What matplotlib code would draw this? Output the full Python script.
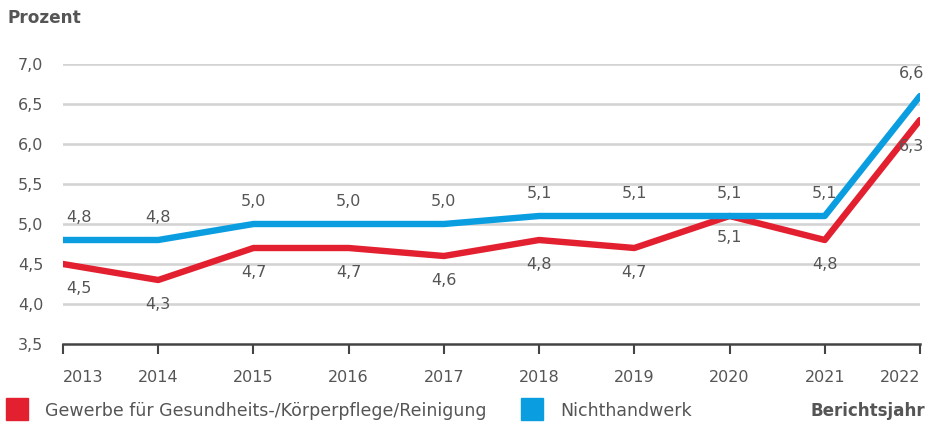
import matplotlib
matplotlib.use("Agg")
import matplotlib.pyplot as plt
from matplotlib.patches import Rectangle

years = [2013, 2014, 2015, 2016, 2017, 2018, 2019, 2020, 2021, 2022]
gewerbe = [4.5, 4.3, 4.7, 4.7, 4.6, 4.8, 4.7, 5.1, 4.8, 6.3]
nichthandwerk = [4.8, 4.8, 5.0, 5.0, 5.0, 5.1, 5.1, 5.1, 5.1, 6.6]
yticks = [3.5, 4.0, 4.5, 5.0, 5.5, 6.0, 6.5, 7.0]

RED = "#e3202f"
BLUE = "#0a9ee0"
TXT = "#555555"
GRID = "#d4d4d4"
FS = 11.5

plt.rcParams['font.family'] = ['DejaVu Sans']

fig = plt.figure(figsize=(9.29, 4.22), dpi=100)
ax = fig.add_axes([63/929, 1-344/422, (920-63)/929, (344-64)/422])
ax.set_xlim(2013, 2022)
ax.set_ylim(3.5, 7.0)

for y in yticks[1:]:
    ax.axhline(y, color=GRID, lw=1.9, zorder=1, solid_capstyle='round')
ax.axhline(3.5, color="#444444", lw=1.8, zorder=2, clip_on=False)

ax.plot(years, gewerbe, color=RED, lw=4.6, zorder=3, solid_joinstyle='round', solid_capstyle='round')
ax.plot(years, nichthandwerk, color=BLUE, lw=4.6, zorder=4, solid_joinstyle='round', solid_capstyle='round')

def fmt(v):
    return f"{v:.1f}".replace(".", ",")

n = len(years)
for i, (x, v) in enumerate(zip(years, nichthandwerk)):
    ha = 'left' if i == 0 else ('right' if i == n - 1 else 'center')
    ax.annotate(fmt(v), (x, v), xytext=(2 if i == 0 else (3 if i == n - 1 else 0), 11), textcoords='offset points',
                ha=ha, va='bottom', fontsize=FS, color=TXT, zorder=5, annotation_clip=False)
for i, (x, v) in enumerate(zip(years, gewerbe)):
    if i == n - 1:
        ax.annotate(fmt(v), (x, v), xytext=(3, -14), textcoords='offset points',
                    ha='right', va='top', fontsize=FS, color=TXT, zorder=5, annotation_clip=False)
    else:
        ha = 'left' if i == 0 else 'center'
        dy = -12 if i != 7 else -10
        ax.annotate(fmt(v), (x, v), xytext=(2 if i == 0 else 0, dy), textcoords='offset points',
                    ha=ha, va='top', fontsize=FS, color=TXT, zorder=5)

for s in ax.spines.values():
    s.set_visible(False)
ax.set_yticks(yticks)
ax.set_yticklabels([fmt(v) for v in yticks])
ax.set_xticks(years)
ax.set_xticklabels([str(y) for y in years])
ax.tick_params(axis='y', length=0, pad=14, labelsize=FS, labelcolor=TXT)
ax.tick_params(axis='x', length=7, width=1.5, color="#444444", pad=12, labelsize=FS, labelcolor=TXT)
xl = ax.get_xticklabels()
xl[0].set_horizontalalignment('left')
xl[-1].set_horizontalalignment('right')

fig.text(8/929, 1-18/422, "Prozent", fontsize=12.2, fontweight='bold', color=TXT, va='center', ha='left')
fig.text(925/929, 1-411/422, "Berichtsjahr", fontsize=12.1, fontweight='bold', color=TXT, va='center', ha='right')

fig.patches.append(Rectangle((6/929, 1-420/422), 22/929, 22/422, transform=fig.transFigure, color=RED))
fig.text(45/929, 1-411/422, "Gewerbe für Gesundheits-/Körperpflege/Reinigung", fontsize=12.5, color=TXT, va='center', ha='left')
fig.patches.append(Rectangle((521/929, 1-420/422), 22/929, 22/422, transform=fig.transFigure, color=BLUE))
fig.text(560/929, 1-411/422, "Nichthandwerk", fontsize=12.5, color=TXT, va='center', ha='left')

fig.savefig("out.png", dpi=100)
